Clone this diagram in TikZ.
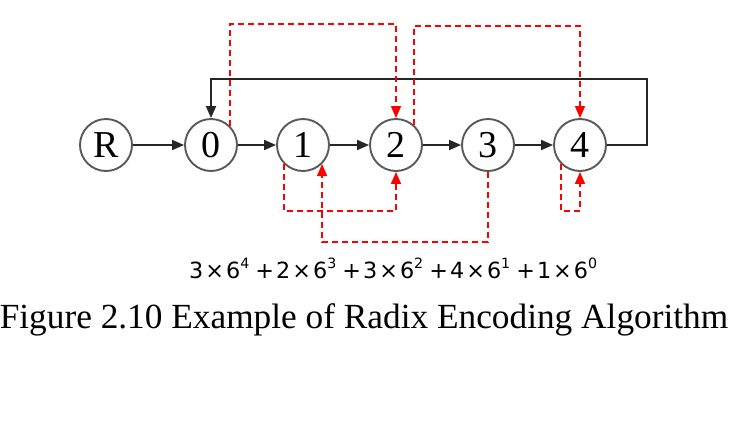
\documentclass[tikz,border=0pt]{standalone}
\usepackage{fontspec}
\usepackage{graphicx}
\setmainfont{Liberation Serif}
\newfontfamily\formulafont{DejaVu Sans}
\usetikzlibrary{arrows.meta}
\tikzset{
  state/.style={circle, draw=black!65, line width=1.9pt, minimum size=52pt, inner sep=0pt,
    font=\fontsize{38}{42}\selectfont},
  flow/.style={line width=1.9pt, draw=black!85, -{Triangle[length=12pt,width=10pt]}},
  link/.style={red, line width=1.6pt, dash pattern=on 6pt off 4pt, -{Triangle[length=12pt,width=10pt]}}
}
\newcommand{\supx}[1]{\raisebox{0.42em}{\fontsize{14}{15}\selectfont #1}}
\newcommand{\gap}{\hspace{6pt}}
\newcommand{\tgap}{\hspace{2pt}}
\begin{document}
\begin{tikzpicture}[x=1pt,y=-1pt]
\useasboundingbox (0,0) rectangle (734,426);
\node[state] (R) at (106,145) {R};
\node[state] (n0) at (211,145) {0};
\node[state] (n1) at (303,145) {1};
\node[state] (n2) at (396,145) {2};
\node[state] (n3) at (488,145) {3};
\node[state] (n4) at (580,145) {4};
% main chain
\draw[flow] (R) -- (n0);
\draw[flow] (n0) -- (n1);
\draw[flow] (n1) -- (n2);
\draw[flow] (n2) -- (n3);
\draw[flow] (n3) -- (n4);
% feedback
\coordinate (fb1) at (647,145);
\coordinate (fb2) at (647,79);
\draw[flow] (n4.east) -- (fb1) -- (fb2) -- (fb2 -| n0.north) -- (n0.north);
% red dashed links
\coordinate (ta) at (0,24);
\draw[link] (n0.46) -- (n0.46 |- ta) -- (n2.north |- ta) -- (n2.north);
\coordinate (tb) at (0,26);
\draw[link] (n2.48) -- (n2.48 |- tb) -- (n4.north |- tb) -- (n4.north);
\coordinate (bc) at (0,211);
\draw[link] (n1.225) -- (n1.225 |- bc) -- (n2.south |- bc) -- (n2.south);
\coordinate (bd) at (0,242);
\draw[link] (n3.south) -- (n3.south |- bd) -- (n1.-45 |- bd) -- (n1.-45);
\draw[link] (n4.225) -- (n4.225 |- bc) -- (n4.south |- bc) -- (n4.south);
% formula
\node[anchor=base west, inner sep=0pt] (formula) at (189,278)
  {\resizebox{408pt}{!}{\formulafont\fontsize{22}{24}\selectfont
    3\tgap×\tgap6\supx{4}\gap+\tgap2\tgap×\tgap6\supx{3}\gap+\tgap3\tgap×\tgap6\supx{2}\gap+\tgap4\tgap×\tgap6\supx{1}\gap+\tgap1\tgap×\tgap6\supx{0}}};
% caption
\node[anchor=base, inner sep=0pt, font=\fontsize{35.3}{40}\selectfont] (caption) at (364,328)
  {Figure 2.10 Example of Radix Encoding Algorithm};
\end{tikzpicture}
\end{document}
